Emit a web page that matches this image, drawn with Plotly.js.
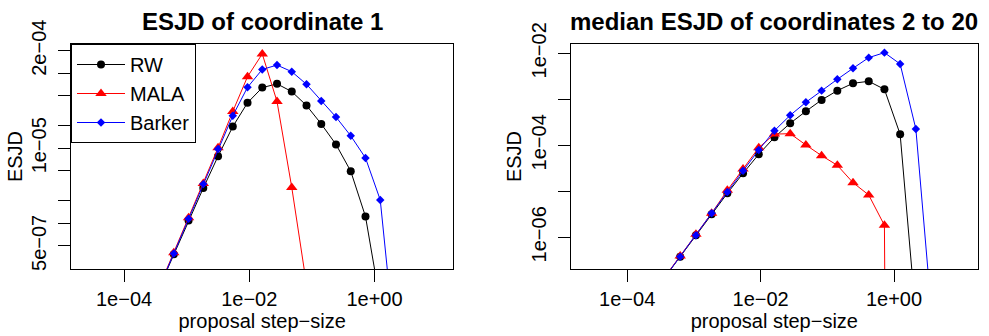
<!DOCTYPE html>
<html>
<head>
<meta charset="utf-8">
<script src="https://cdn.plot.ly/plotly-3.0.1.min.js"></script>
<style>html,body{margin:0;padding:0;background:#fff;}#chart{width:989px;height:336px;}</style>
</head>
<body>
<div id="chart"></div>
<script>
// proposal step-sizes (shared grid)
const stepSize = [3.626e-4, 6.237e-4, 1.073e-3, 1.845e-3, 3.173e-3, 5.458e-3, 9.387e-3,
  1.614e-2, 2.777e-2, 4.775e-2, 8.213e-2, 0.1413, 0.2429, 0.4178, 0.7186, 1.236, 2.126, 3.656];

// Panel 1: ESJD of coordinate 1
const rw1 = [1.38e-7, 3.88e-7, 1.091e-6, 2.95e-6, 7.82e-6, 1.945e-5, 4.04e-5, 6.44e-5,
  7.22e-5, 5.70e-5, 3.72e-5, 2.11e-5, 1.125e-5, 4.95e-6, 1.233e-6, 8.9e-8];
const mala1 = [1.41e-7, 4.05e-7, 1.186e-6, 3.40e-6, 1.016e-5, 3.10e-5, 9.0e-5, 1.81e-4,
  4.2e-5, 3.01e-6, 1.53e-7];
const barker1 = [1.38e-7, 3.96e-7, 1.148e-6, 3.33e-6, 9.77e-6, 2.72e-5, 6.50e-5, 1.125e-4,
  1.285e-4, 1.05e-4, 7.13e-5, 4.26e-5, 2.61e-5, 1.466e-5, 7.43e-6, 2.05e-6, 2.4e-8];

// Panel 2: median ESJD of coordinates 2 to 20
const rw2 = [1.32e-7, 3.80e-7, 1.104e-6, 3.16e-6, 9.06e-6, 2.46e-5, 6.37e-5, 1.493e-4,
  3.01e-4, 5.48e-4, 9.68e-4, 1.542e-3, 2.23e-3, 2.46e-3, 1.648e-3, 1.734e-4, 1.9e-8];
const mala2 = [1.35e-7, 3.93e-7, 1.161e-6, 3.33e-6, 1.052e-5, 3.06e-5, 8.89e-5, 1.75e-4,
  1.79e-4, 1.016e-4, 5.96e-5, 3.67e-5, 1.542e-5, 8.32e-6, 1.824e-6, 1e-60];
const barker2 = [1.32e-7, 3.80e-7, 1.104e-6, 3.33e-6, 9.68e-6, 2.81e-5, 7.93e-5, 2.08e-4,
  4.49e-4, 8.61e-4, 1.542e-3, 2.72e-3, 4.72e-3, 8.05e-3, 1.033e-2, 5.86e-3, 2.26e-4, 2.3e-8];

const seriesNames = ['RW', 'MALA', 'Barker'];
const xTickVals = [1e-4, 1e-2, 1];
const xTickText = ['1e\u221204', '1e\u221202', '1e+00'];
const y1TickVals = [5e-7, 1e-6, 2e-6, 5e-6, 1e-5, 2e-5, 5e-5, 1e-4, 2e-4];
const y1TickText = ['5e\u221207', '', '', '', '1e\u221205', '', '', '', '2e\u221204'];
const y2TickVals = [1e-6, 1e-5, 1e-4, 1e-3, 1e-2];
const y2TickText = ['1e\u221206', '', '1e\u221204', '', '1e\u221202'];

const FONT = 'Liberation Sans, Arial, Helvetica, sans-serif';
const styles = [
  {color: 'black', symbol: 'circle', size: 8},
  {color: 'red', symbol: 'triangle-up', size: 10},
  {color: 'blue', symbol: 'diamond', size: 6.5}
];

function mk(vals, i, xa, ya, showLegend) {
  return {
    type: 'scatter', mode: 'lines+markers',
    x: stepSize.slice(0, vals.length), y: vals,
    name: seriesNames[i], xaxis: xa, yaxis: ya, showlegend: showLegend,
    line: {color: styles[i].color, width: 1},
    marker: {color: styles[i].color, symbol: styles[i].symbol, size: styles[i].size}
  };
}

const data = [
  mk(rw1, 0, 'x', 'y', true), mk(mala1, 1, 'x', 'y', true), mk(barker1, 2, 'x', 'y', true),
  mk(rw2, 0, 'x2', 'y2', false), mk(mala2, 1, 'x2', 'y2', false), mk(barker2, 2, 'x2', 'y2', false)
];

function xax(domain, anchor) {
  return {
    type: 'log', domain: domain, anchor: anchor, range: [-4.847, 1.259],
    showline: true, mirror: true, linecolor: 'black', linewidth: 1,
    ticks: 'outside', ticklen: 12, tickcolor: 'black', tickwidth: 1,
    tickvals: xTickVals, ticktext: xTickText, tickfont: {size: 20, color: 'black'},
    showgrid: false, zeroline: false,
    title: {text: 'proposal step\u2212size', font: {size: 20, color: 'black'}, standoff: 4}
  };
}
function yax(range, tv, tt, anchor) {
  return {
    type: 'log', domain: [0, 1], anchor: anchor, range: range,
    showline: true, mirror: true, linecolor: 'black', linewidth: 1,
    ticks: 'outside', ticklen: 12, tickcolor: 'black', tickwidth: 1,
    tickvals: tv, ticktext: tt, tickangle: -90, tickfont: {size: 20, color: 'black'},
    ticklabelstandoff: 4,
    showgrid: false, zeroline: false,
    title: {text: 'ESJD', font: {size: 20, color: 'black'}, standoff: 0}
  };
}

const layout = {
  width: 989, height: 336,
  margin: {l: 71, r: 11, t: 44, b: 67},
  paper_bgcolor: 'white', plot_bgcolor: 'white',
  font: {family: FONT, color: 'black', size: 20},
  showlegend: true,
  legend: {
    x: 0, y: 1, xanchor: 'left', yanchor: 'top',
    bordercolor: 'black', borderwidth: 1, bgcolor: 'white',
    font: {size: 20, family: FONT}, itemwidth: 48
  },
  xaxis: xax([0, 0.4215], 'y'),
  yaxis: yax([-6.609, -3.610], y1TickVals, y1TickText, 'x'),
  xaxis2: xax([0.5509, 1], 'y2'),
  yaxis2: yax([-6.689, -1.798], y2TickVals, y2TickText, 'x2'),
  annotations: [
    {text: '<b>ESJD of coordinate 1</b>', xref: 'paper', yref: 'paper',
     x: 0.2108, y: 1, xanchor: 'center', yanchor: 'middle', yshift: 23,
     showarrow: false, font: {size: 24, family: FONT, color: 'black'}},
    {text: '<b>median ESJD of coordinates 2 to 20</b>', xref: 'paper', yref: 'paper',
     x: 0.7755, y: 1, xanchor: 'center', yanchor: 'middle', yshift: 23,
     showarrow: false, font: {size: 24, family: FONT, color: 'black'}}
  ]
};

Plotly.newPlot('chart', data, layout, {displayModeBar: false, staticPlot: true});
</script>
</body>
</html>
